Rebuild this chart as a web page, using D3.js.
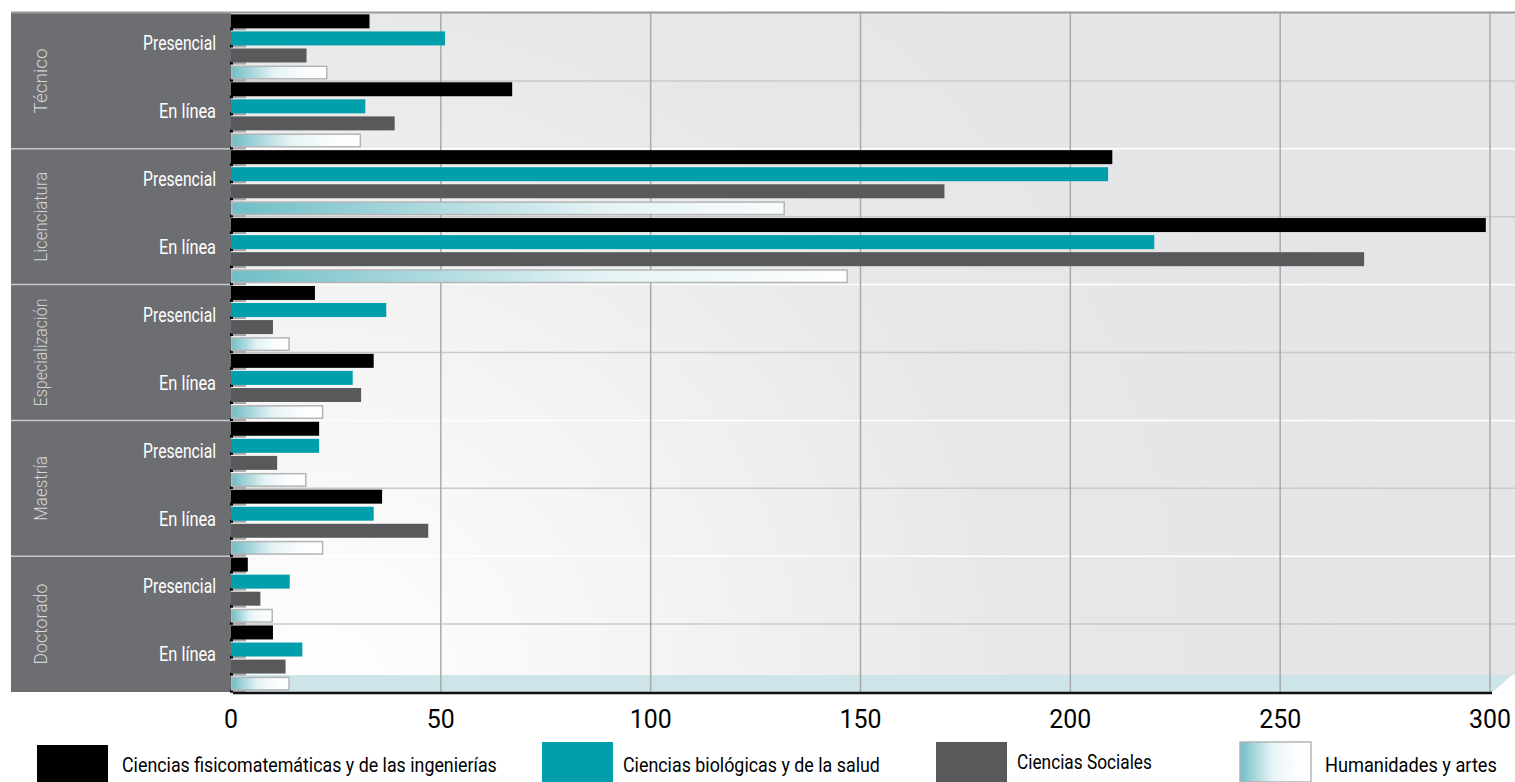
<!DOCTYPE html>
<html>
<head>
<meta charset="utf-8">
<script src="https://cdn.jsdelivr.net/npm/d3@7"></script>
<style>
  html, body { margin: 0; padding: 0; background: #ffffff; }
  svg { display: block; font-family: Roboto, 'Liberation Sans', sans-serif; }
</style>
</head>
<body>
<svg id="chart" width="1515" height="782"></svg>
<script>
// ---- Data ----
const levels = ["Técnico", "Licenciatura", "Especialización", "Maestría", "Doctorado"];
const modes = ["Presencial", "En línea"];
const seriesNames = [
  "Ciencias fisicomatemáticas y de las ingenierías",
  "Ciencias biológicas y de la salud",
  "Ciencias Sociales",
  "Humanidades y artes"
];
// order: Técnico-Presencial, Técnico-En línea, Licenciatura-Presencial, ...
const fisicomatematicas = [33, 67, 210, 299, 20, 34, 21, 36, 4, 10];
const biologicas        = [51, 32, 209, 220, 37, 29, 21, 34, 14, 17];
const sociales          = [18, 39, 170, 270, 10, 31, 11, 47, 7, 13];
const humanidades       = [23, 31, 132, 147, 14, 22, 18, 22, 10, 14];
const xTicks = [0, 50, 100, 150, 200, 250, 300];

const seriesValues = [fisicomatematicas, biologicas, sociales, humanidades];
const rows = [];
levels.forEach(l => modes.forEach(m => rows.push({ level: l, mode: m, key: l + "|" + m })));

// ---- Layout ----
const svg = d3.select("#chart");
const W = 1515;
const panelX0 = 11, plotX0 = 231, plotTop = 13, plotBottom = 692;
const x = d3.scaleLinear().domain([0, 300]).range([plotX0, 1490]);
const y = d3.scaleBand().domain(rows.map(r => r.key)).range([plotTop, plotBottom]).padding(0);
const yInner = d3.scaleBand().domain(d3.range(4)).range([0, y.bandwidth()]).paddingInner(0.18).paddingOuter(0.08);
const levelBand = d3.scaleBand().domain(levels).range([plotTop, plotBottom]).padding(0);

// helper: horizontally compress a text to a target width (condensed look)
function condense(sel, targetW, anchor) {
  sel.each(function (d) {
    const t = d3.select(this);
    const nat = this.getComputedTextLength();
    const tw = typeof targetW === "function" ? targetW(d) : targetW;
    const s = Math.min(1, tw / nat);
    const tx = +t.attr("x"), ty = +t.attr("y");
    t.attr("x", 0).attr("y", 0)
      .attr("transform", `translate(${tx},${ty}) scale(${s},1)`);
  });
}

const defs = svg.append("defs");
const bg = defs.append("radialGradient").attr("id", "bgGrad")
  .attr("gradientUnits", "userSpaceOnUse")
  .attr("cx", plotX0 + 80).attr("cy", plotBottom).attr("r", 1100);
bg.append("stop").attr("offset", "0%").attr("stop-color", "#ffffff");
bg.append("stop").attr("offset", "35%").attr("stop-color", "#f3f3f3");
bg.append("stop").attr("offset", "65%").attr("stop-color", "#e6e7e8");
bg.append("stop").attr("offset", "100%").attr("stop-color", "#e4e5e7");

const hg = defs.append("linearGradient").attr("id", "humGrad").attr("x1", "0").attr("x2", "1").attr("y1", "0").attr("y2", "0");
hg.append("stop").attr("offset", "0%").attr("stop-color", "#6fbec6");
hg.append("stop").attr("offset", "45%").attr("stop-color", "#e6f3f5");
hg.append("stop").attr("offset", "75%").attr("stop-color", "#f9fcfd");
hg.append("stop").attr("offset", "100%").attr("stop-color", "#ffffff");

const hgLong = defs.append("linearGradient").attr("id", "humGradLong")
  .attr("gradientUnits", "userSpaceOnUse").attr("x1", plotX0).attr("x2", x(150)).attr("y1", 0).attr("y2", 0);
hgLong.append("stop").attr("offset", "0%").attr("stop-color", "#6fbec6");
hgLong.append("stop").attr("offset", "60%").attr("stop-color", "#e6f3f5");
hgLong.append("stop").attr("offset", "100%").attr("stop-color", "#ffffff");

// Plot background
svg.append("rect").attr("x", plotX0).attr("y", plotTop).attr("width", W - plotX0).attr("height", 675 - plotTop)
  .attr("fill", "url(#bgGrad)");

// Floor
svg.append("path")
  .attr("d", `M${plotX0},675 L1512,675 L1493,692 L${plotX0},692 Z`)
  .attr("fill", "#cde4e8");

// Left panel
svg.append("rect").attr("x", panelX0).attr("y", plotTop).attr("width", plotX0 - panelX0).attr("height", plotBottom - plotTop)
  .attr("fill", "#6d6e71");

// Top border line
svg.append("line").attr("x1", panelX0).attr("x2", W).attr("y1", plotTop - 0.5).attr("y2", plotTop - 0.5)
  .attr("stroke", "#98999b").attr("stroke-width", 2);

// Row separators
rows.forEach((r, i) => {
  if (i === 0) return;
  const yy = y(r.key);
  const isGroup = r.mode === modes[0];
  svg.append("line").attr("x1", plotX0).attr("x2", W).attr("y1", yy).attr("y2", yy)
    .attr("stroke", isGroup ? "#ffffff" : "#c9cacc").attr("stroke-width", 1.5);
  if (isGroup) {
    svg.append("line").attr("x1", panelX0).attr("x2", plotX0).attr("y1", yy).attr("y2", yy)
      .attr("stroke", "#c7c8ca").attr("stroke-width", 1.5);
  }
});

// Vertical gridlines
svg.append("g").selectAll("line").data(xTicks.slice(1)).join("line")
  .attr("x1", d => x(d)).attr("x2", d => x(d))
  .attr("y1", plotTop).attr("y2", plotBottom)
  .attr("stroke", "#a7a9ac").attr("stroke-width", 1.5);

// Bars
const rowG = svg.append("g").selectAll("g").data(rows).join("g")
  .attr("transform", r => `translate(0,${y(r.key)})`);

rowG.each(function (r, ri) {
  const g = d3.select(this);
  seriesValues.forEach((vals, si) => {
    const v = vals[ri];
    const by = yInner(si);
    const bh = yInner.bandwidth();
    g.append("rect").attr("x", plotX0).attr("y", by + bh - 1).attr("width", 15).attr("height", 3)
      .attr("fill", "#a7a9ac");
    g.append("rect").attr("x", plotX0 - 1).attr("y", by + bh - 1).attr("width", 3).attr("height", 3)
      .attr("fill", "#000");
    if (si === 3) {
      g.append("rect").attr("x", x(0) + 0.75).attr("y", by + 0.75)
        .attr("width", Math.max(0, x(v) - x(0) - 1.5)).attr("height", bh - 1.5)
        .attr("fill", v > 100 ? "url(#humGradLong)" : "url(#humGrad)")
        .attr("stroke", "#b3b5b7").attr("stroke-width", 1.5);
    } else {
      g.append("rect").attr("x", x(0)).attr("y", by)
        .attr("width", x(v) - x(0)).attr("height", bh)
        .attr("fill", ["#000000", "#009fab", "#58595b"][si]);
    }
  });
});

// Baseline
svg.append("line").attr("x1", plotX0 + 2).attr("x2", 1492).attr("y1", plotBottom + 1).attr("y2", plotBottom + 1)
  .attr("stroke", "#111").attr("stroke-width", 2.5);

// Subgroup labels
const modeWidths = { "Presencial": 73, "En línea": 57 };
svg.append("g").selectAll("text").data(rows).join("text")
  .attr("x", 216).attr("y", r => y(r.key) + y.bandwidth() / 2 - 2)
  .attr("text-anchor", "end").attr("dominant-baseline", "middle")
  .attr("fill", "#ffffff").attr("font-size", 20)
  .text(r => r.mode)
  .call(condense, r => modeWidths[r.mode]);

// Level labels (rotated)
const levelWidths = { "Técnico": 70, "Licenciatura": 90, "Especialización": 108, "Maestría": 65, "Doctorado": 81 };
svg.append("g").selectAll("g").data(levels).join("g")
  .attr("transform", l => `translate(47,${levelBand(l) + levelBand.bandwidth() / 2}) rotate(-90)`)
  .append("text")
  .attr("x", 0).attr("y", 0)
  .attr("text-anchor", "middle")
  .attr("fill", "#d4d5d7").attr("font-size", 19).attr("font-weight", 300)
  .text(l => l)
  .call(condense, l => levelWidths[l]);

// X axis tick labels
svg.append("g").selectAll("text").data(xTicks).join("text")
  .attr("x", d => x(d)).attr("y", 728)
  .attr("text-anchor", "middle")
  .attr("fill", "#000").attr("font-size", 25)
  .text(d => d)
  .call(condense, d => String(d).length * 14);

// Legend
const legendItems = [
  { sw: 37, swy: 745, tx: 122, ty: 772, fill: "#000000", w: 375 },
  { sw: 542, swy: 742, tx: 623, ty: 772, fill: "#009fab", w: 257 },
  { sw: 936, swy: 742, tx: 1017, ty: 769, fill: "#58595b", w: 135 },
  { sw: 1240, swy: 742, tx: 1325, ty: 772, fill: "url(#humGrad)", w: 172 }
];
const lg = svg.append("g").selectAll("g").data(legendItems).join("g");
lg.append("rect").attr("x", d => d.sw).attr("y", d => d.swy)
  .attr("width", 71).attr("height", 40)
  .attr("fill", d => d.fill)
  .attr("stroke", (d, i) => i === 3 ? "#b3b5b7" : "none").attr("stroke-width", 1.5);
lg.append("text").attr("x", d => d.tx).attr("y", d => d.ty)
  .attr("fill", "#000").attr("font-size", 21)
  .text((d, i) => seriesNames[i])
  .call(condense, d => d.w);
</script>
</body>
</html>
